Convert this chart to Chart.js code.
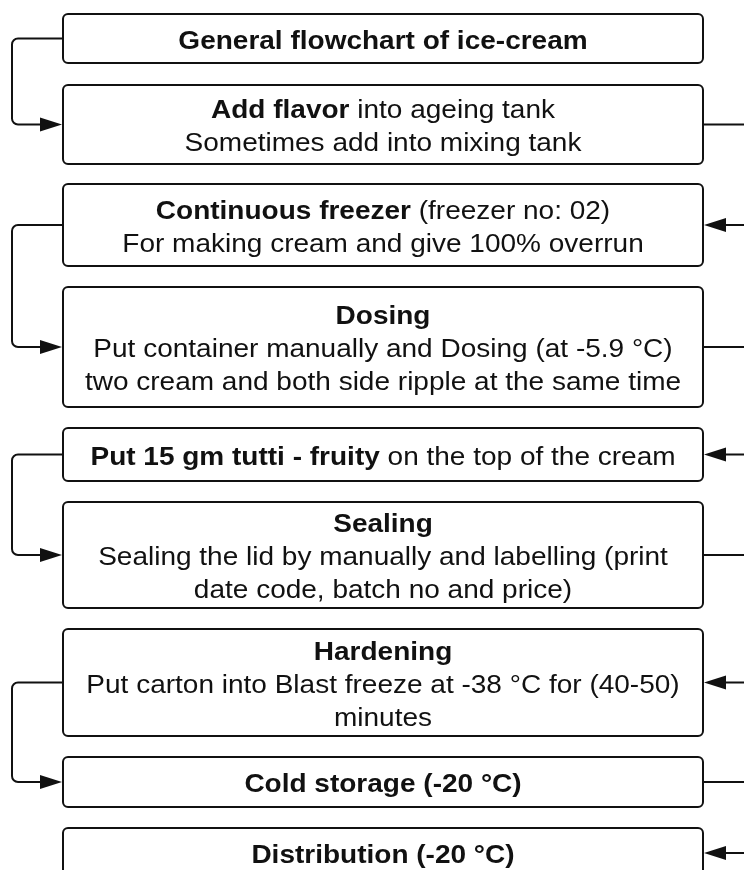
<!DOCTYPE html>
<html>
<head>
<meta charset="utf-8">
<script src="https://cdn.jsdelivr.net/npm/chart.js@4.4.1/dist/chart.umd.min.js"></script>
<style>
  html, body { margin: 0; padding: 0; background: #ffffff; }
  #wrap { width: 744px; height: 870px; }
</style>
</head>
<body>
<div id="wrap"><canvas id="flow" width="744" height="870"></canvas></div>
<script>
// flowchart steps, top to bottom (** marks bold text)
const stepLines = [
    ["**General flowchart of ice-cream**"],
    ["**Add flavor** into ageing tank", "Sometimes add into mixing tank"],
    ["**Continuous freezer** (freezer no: 02)", "For making cream and give 100% overrun"],
    ["**Dosing**", "Put container manually and Dosing (at -5.9 °C)", "two cream and both side ripple at the same time"],
    ["**Put 15 gm tutti - fruity** on the top of the cream"],
    ["**Sealing**", "Sealing the lid by manually and labelling (print", "date code, batch no and price)"],
    ["**Hardening**", "Put carton into Blast freeze at -38 °C for (40-50)", "minutes"],
    ["**Cold storage (-20 °C)**"],
    ["**Distribution (-20 °C)**"]
];
// vertical extent of each step box (y units, 0 at top)
const stepTop    = [14, 85, 184, 287, 428, 502, 629, 757, 828];
const stepBottom = [63, 164, 266, 407, 481, 608, 736, 807, 878];
// horizontal extent shared by all boxes
const boxLeft = 63;
const boxRight = 703;
// connector from step i to step i+1: 'left' loop or 'right' loop
const links = [
    [0, 1, 'left'], [1, 2, 'right'], [2, 3, 'left'], [3, 4, 'right'],
    [4, 5, 'left'], [5, 6, 'right'], [6, 7, 'left'], [7, 8, 'right']
];

const FONT = '"Liberation Sans", Arial, sans-serif';
const fontSize = 26;
const stretch = 1.077;   // source text is a little wider than plain Arial
const lineHeight = 33;
const ink = '#111111';

function parseLine(line) {
    const parts = line.split('**');
    const segs = [];
    parts.forEach((p, i) => {
        if (p.length) segs.push({ text: p, bold: i % 2 === 1 });
    });
    return segs;
}

function roundRect(ctx, x, y, w, h, r) {
    ctx.beginPath();
    ctx.moveTo(x + r, y);
    ctx.lineTo(x + w - r, y);
    ctx.arcTo(x + w, y, x + w, y + r, r);
    ctx.lineTo(x + w, y + h - r);
    ctx.arcTo(x + w, y + h, x + w - r, y + h, r);
    ctx.lineTo(x + r, y + h);
    ctx.arcTo(x, y + h, x, y + h - r, r);
    ctx.lineTo(x, y + r);
    ctx.arcTo(x, y, x + r, y, r);
    ctx.closePath();
}

function arrowHead(ctx, tipX, tipY, dir) {
    // dir = 1 points right, -1 points left
    const len = 22, half = 7;
    ctx.beginPath();
    ctx.moveTo(tipX, tipY);
    ctx.lineTo(tipX - dir * len, tipY - half);
    ctx.lineTo(tipX - dir * len, tipY + half);
    ctx.closePath();
    ctx.fill();
}

const flowPlugin = {
    id: 'flowPlugin',
    afterDraw(chart) {
        const ctx = chart.ctx;
        const xs = chart.scales.x;
        const ys = chart.scales.y;
        const L = xs.getPixelForValue(boxLeft);
        const R = xs.getPixelForValue(boxRight);
        const centerY = i => ys.getPixelForValue((stepTop[i] + stepBottom[i]) / 2);

        ctx.save();
        ctx.strokeStyle = ink;
        ctx.fillStyle = ink;
        ctx.lineWidth = 2;

        // boxes
        stepLines.forEach((lines, i) => {
            const t = ys.getPixelForValue(stepTop[i]);
            const b = ys.getPixelForValue(stepBottom[i]);
            roundRect(ctx, L, t, R - L, b - t, 5);
            ctx.stroke();
        });

        // connectors
        links.forEach(([from, to, side]) => {
            const y1 = centerY(from);
            const y2 = centerY(to);
            const r = 6;
            ctx.beginPath();
            if (side === 'left') {
                const lx = xs.getPixelForValue(12);
                ctx.moveTo(L, y1);
                ctx.arcTo(lx, y1, lx, y1 + r, r);
                ctx.arcTo(lx, y2, lx + r, y2, r);
                ctx.lineTo(L - 20, y2);
                ctx.stroke();
                arrowHead(ctx, L - 1, y2, 1);
            } else {
                const rx = xs.getPixelForValue(770);
                ctx.moveTo(R, y1);
                ctx.arcTo(rx, y1, rx, y1 + r, r);
                ctx.arcTo(rx, y2, rx - r, y2, r);
                ctx.lineTo(R + 20, y2);
                ctx.stroke();
                arrowHead(ctx, R + 1, y2, -1);
            }
        });

        // text
        ctx.textBaseline = 'alphabetic';
        ctx.textAlign = 'left';
        const cx = (L + R) / 2;
        stepLines.forEach((lines, i) => {
            const cy = centerY(i);
            const n = lines.length;
            lines.forEach((line, k) => {
                const segs = parseLine(line);
                let total = 0;
                segs.forEach(s => {
                    ctx.font = (s.bold ? 'bold ' : '') + fontSize + 'px ' + FONT;
                    s.w = ctx.measureText(s.text).width * stretch;
                    total += s.w;
                });
                let x = cx - total / 2;
                const base = cy + (k - (n - 1) / 2) * lineHeight + fontSize * 0.358 + 1;
                segs.forEach(s => {
                    ctx.font = (s.bold ? 'bold ' : '') + fontSize + 'px ' + FONT;
                    ctx.save();
                    ctx.translate(x, base);
                    ctx.scale(stretch, 1);
                    ctx.fillText(s.text, 0, 0);
                    ctx.restore();
                    x += s.w;
                });
            });
        });
        ctx.restore();
    }
};

new Chart(document.getElementById('flow'), {
    type: 'scatter',
    data: { datasets: [{ data: [], pointRadius: 0 }] },
    options: {
        responsive: false,
        animation: false,
        layout: { padding: 0 },
        plugins: { legend: { display: false }, tooltip: { enabled: false } },
        scales: {
            x: { type: 'linear', min: 0, max: 744, display: false },
            y: { type: 'linear', min: 0, max: 870, reverse: true, display: false }
        }
    },
    plugins: [flowPlugin]
});
</script>
</body>
</html>
